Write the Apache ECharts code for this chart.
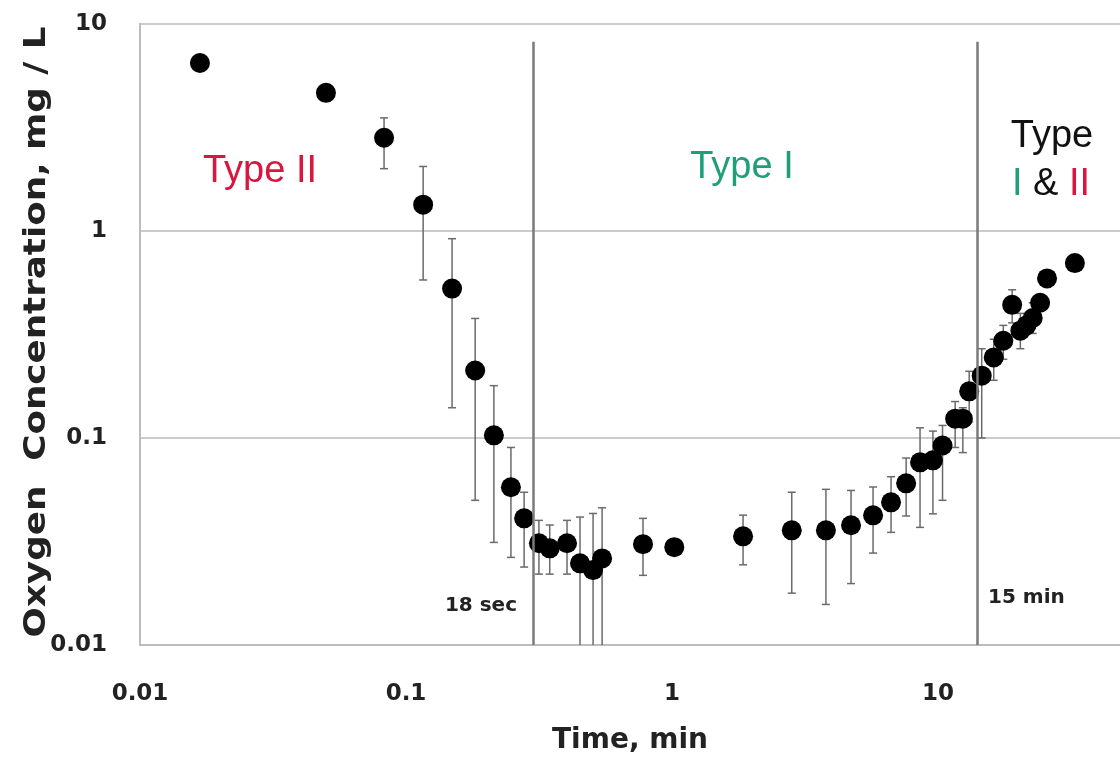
<!DOCTYPE html>
<html>
<head>
<meta charset="utf-8">
<script src="https://cdn.jsdelivr.net/npm/echarts@6/dist/echarts.min.js"></script>
<style>
html,body{margin:0;padding:0;background:#fff;}
#chart{width:1120px;height:761px;}
</style>
</head>
<body>
<div id="chart"></div>
<script>
// Time (min)
const times = [0.0168, 0.05, 0.0827, 0.116, 0.149, 0.182, 0.214, 0.248, 0.278, 0.316,
  0.347, 0.403, 0.451, 0.505, 0.546, 0.778, 1.02, 1.85, 2.82, 3.79,
  4.71, 5.7, 6.66, 7.59, 8.56, 9.57, 10.4, 11.6, 12.4, 13.1,
  14.6, 16.2, 17.6, 19.0, 20.4, 21.5, 22.7, 24.2, 25.7, 32.7];
// Oxygen concentration (mg/L)
const conc = [6.48, 4.65, 2.82, 1.34, 0.527, 0.212, 0.103, 0.0578, 0.0409, 0.031,
  0.0293, 0.031, 0.0248, 0.023, 0.0262, 0.0307, 0.0297, 0.0335, 0.0358, 0.0358,
  0.0379, 0.0423, 0.0489, 0.0604, 0.0763, 0.078, 0.092, 0.124, 0.124, 0.168,
  0.2, 0.245, 0.295, 0.44, 0.33, 0.35, 0.38, 0.45, 0.59, 0.70];
// error bar lower / upper ends (null = no bar)
const errLow = [null, null, 2.0, 0.58, 0.14, 0.05, 0.0313, 0.0265, 0.0238, 0.022,
  0.022, 0.022, 0.005, 0.005, 0.005, 0.0217, null, 0.0244, 0.0178, 0.0157,
  0.0198, 0.0278, 0.035, 0.042, 0.037, 0.043, 0.05, 0.09, 0.085, 0.12,
  0.1, 0.19, 0.24, 0.36, 0.27, null, 0.32, null, null, null];
const errHigh = [null, null, 3.52, 2.05, 0.918, 0.378, 0.179, 0.090, 0.0547, 0.04,
  0.038, 0.040, 0.0415, 0.0432, 0.046, 0.0409, null, 0.0424, 0.0547, 0.0565,
  0.0558, 0.058, 0.065, 0.08, 0.112, 0.108, 0.115, 0.15, 0.14, 0.21,
  0.27, 0.3, 0.35, 0.52, 0.4, null, 0.45, null, null, null];
// vertical reference lines (min) and their labels
const vLines = [0.3, 14];
const vLineTop = 8.2;
const vLineLabels = ['18 sec', '15 min'];

const points = times.map((t, i) => [t, conc[i]]);
const errData = [];
times.forEach((t, i) => { if (errLow[i] != null) errData.push([t, errLow[i], errHigh[i]]); });

const chart = echarts.init(document.getElementById('chart'));
const labelFont = {fontFamily: 'DejaVu Sans', fontWeight: 'bold', fontSize: 23, color: '#222'};

chart.setOption({
  animation: false,
  backgroundColor: '#fff',
  grid: {left: 140, top: 24, width: 1064, height: 621, containLabel: false, outerBoundsMode: 'none',
    show: true, borderColor: '#cfcfcf', borderWidth: 2, backgroundColor: 'transparent'},
  xAxis: {
    type: 'log', logBase: 10, min: 0.01, max: 100,
    axisLine: {show: true, lineStyle: {color: '#bdbdbd', width: 2}},
    axisTick: {show: false},
    splitLine: {show: false},
    axisLabel: Object.assign({margin: 38}, labelFont)
  },
  yAxis: {
    type: 'log', logBase: 10, min: 0.01, max: 10,
    axisLine: {show: true, lineStyle: {color: '#bdbdbd', width: 2}},
    axisTick: {show: false},
    splitLine: {show: true, lineStyle: {color: '#cbcbcb', width: 2}},
    axisLabel: Object.assign({margin: 33}, labelFont)
  },
  series: [
    {
      type: 'custom',
      clip: true,
      z: 2,
      data: errData,
      encode: {x: 0, y: [1, 2]},
      renderItem: function (params, api) {
        const x = api.value(0);
        const lo = api.coord([x, api.value(1)]);
        const hi = api.coord([x, api.value(2)]);
        const cap = 4;
        const st = {stroke: '#6a6a6a', lineWidth: 1.5};
        return {type: 'group', children: [
          {type: 'line', shape: {x1: lo[0], y1: lo[1], x2: hi[0], y2: hi[1]}, style: st},
          {type: 'line', shape: {x1: lo[0] - cap, y1: lo[1], x2: lo[0] + cap, y2: lo[1]}, style: st},
          {type: 'line', shape: {x1: hi[0] - cap, y1: hi[1], x2: hi[0] + cap, y2: hi[1]}, style: st}
        ]};
      }
    },
    {
      type: 'scatter',
      z: 3,
      symbol: 'circle',
      symbolSize: 20,
      itemStyle: {color: '#000', opacity: 1},
      data: points,
      markLine: {
        silent: true,
        symbol: ['none', 'none'],
        label: {show: false},
        lineStyle: {color: '#7a7a7a', width: 2.5, type: 'solid'},
        data: vLines.map(v => [{coord: [v, 0.01]}, {coord: [v, vLineTop]}])
      }
    }
  ],
  graphic: [
    {type: 'text', x: 37, y: 332, rotation: Math.PI / 2, scaleX: 1.19,
      style: {text: 'Oxygen  Concentration, mg / L', font: 'bold 30px "DejaVu Sans"', fill: '#222', align: 'center', verticalAlign: 'middle'}},
    {type: 'text', x: 630, y: 741,
      style: {text: 'Time, min', font: 'bold 28px "DejaVu Sans"', fill: '#222', align: 'center', verticalAlign: 'middle'}},
    {type: 'text', x: 517, y: 606,
      style: {text: vLineLabels[0], font: 'bold 20px "DejaVu Sans"', fill: '#222', align: 'right', verticalAlign: 'middle'}},
    {type: 'text', x: 988, y: 598,
      style: {text: vLineLabels[1], font: 'bold 20px "DejaVu Sans"', fill: '#222', align: 'left', verticalAlign: 'middle'}},
    {type: 'text', x: 260, y: 172,
      style: {text: 'Type II', font: '38px "Liberation Sans"', fill: '#d8163f', align: 'center', verticalAlign: 'middle'}},
    {type: 'text', x: 742, y: 168,
      style: {text: 'Type I', font: '38px "Liberation Sans"', fill: '#1f9e7a', align: 'center', verticalAlign: 'middle'}},
    {type: 'text', x: 1052, y: 137,
      style: {text: 'Type', font: '38px "Liberation Sans"', fill: '#111', align: 'center', verticalAlign: 'middle'}},
    {type: 'text', x: 1051, y: 185,
      style: {text: '{g|I} {k|&} {r|II}', font: '38px "Liberation Sans"', align: 'center', verticalAlign: 'middle',
        rich: {
          g: {fill: '#1f9e7a', font: '38px "Liberation Sans"'},
          k: {fill: '#111', font: '38px "Liberation Sans"'},
          r: {fill: '#d8163f', font: '38px "Liberation Sans"'}
        }}}
  ]
});
</script>
</body>
</html>
